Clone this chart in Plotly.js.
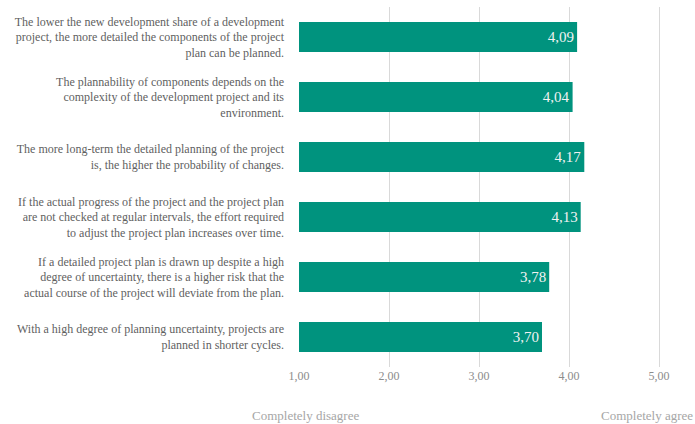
<!DOCTYPE html>
<html>
<head>
<meta charset="utf-8">
<script src="https://cdn.plot.ly/plotly-3.0.1.min.js"></script>
<style>html,body{margin:0;padding:0;background:#fff;}#chart{width:695px;height:424px;}</style>
</head>
<body>
<div id="chart"></div>
<script>
var statements = [
  "The lower the new development share of a development<br>project, the more detailed the components of the project<br>plan can be planned.",
  "The plannability of components depends on the<br>complexity of the development project and its<br>environment.",
  "The more long-term the detailed planning of the project<br>is, the higher the probability of changes.",
  "If the actual progress of the project and the project plan<br>are not checked at regular intervals, the effort required<br>to adjust the project plan increases over time.",
  "If a detailed project plan is drawn up despite a high<br>degree of uncertainty, there is a higher risk that the<br>actual course of the project will deviate from the plan.",
  "With a high degree of planning uncertainty, projects are<br>planned in shorter cycles."
];
var scores = [4.09, 4.04, 4.17, 4.13, 3.78, 3.70];
var tickValues = [1, 2, 3, 4, 5];
var scaleLabels = ["Completely disagree", "Completely agree"];

var ids = statements.map(function(_, i){ return "s" + i; });
var serif = "Liberation Serif";

var trace = {
  type: "bar",
  orientation: "h",
  x: scores.map(function(v){ return v - 1; }),
  base: 1,
  y: ids,
  width: 0.5,
  marker: {color: "#00937E"},
  text: scores.map(function(v){ return v.toFixed(2).replace(".", ","); }),
  textposition: "inside",
  insidetextanchor: "end",
  textfont: {family: serif, size: 15, color: "#F2F2F2"},
  hoverinfo: "skip"
};

var layout = {
  width: 695, height: 424,
  margin: {l: 299, r: 0, t: 7, b: 57},
  paper_bgcolor: "#fff", plot_bgcolor: "#fff",
  showlegend: false,
  font: {family: serif, color: "#595959"},
  xaxis: {
    range: [1, 5.4],
    tickvals: tickValues,
    ticktext: tickValues.map(function(v){ return v.toFixed(2).replace(".", ","); }),
    showgrid: true, gridcolor: "#D9D9D9", gridwidth: 1,
    zeroline: false, showline: false,
    ticks: "", ticklen: 0,
    tickfont: {family: serif, size: 12, color: "#8C8C8C"},
    fixedrange: true
  },
  yaxis: {
    type: "category",
    categoryorder: "array", categoryarray: ids.slice().reverse(),
    tickvals: ids, ticktext: statements,
    showgrid: false, zeroline: false, showline: false,
    ticks: "", ticklen: 0,
    ticklabelstandoff: 14,
    tickfont: {family: serif, size: 12, color: "#5F5F5F"},
    automargin: false,
    fixedrange: true
  },
  annotations: [
    {x: 1.07, y: -0.135, xref: "x", yref: "paper", text: scaleLabels[0], showarrow: false,
     xanchor: "center", yanchor: "middle", font: {family: serif, size: 13, color: "#A6A6A6"}},
    {x: 1, y: -0.135, xref: "paper", yref: "paper", text: scaleLabels[1], showarrow: false,
     xanchor: "right", yanchor: "middle", font: {family: serif, size: 13, color: "#A6A6A6"}}
  ]
};

Plotly.newPlot("chart", [trace], layout, {displayModeBar: false, staticPlot: true});
</script>
</body>
</html>
